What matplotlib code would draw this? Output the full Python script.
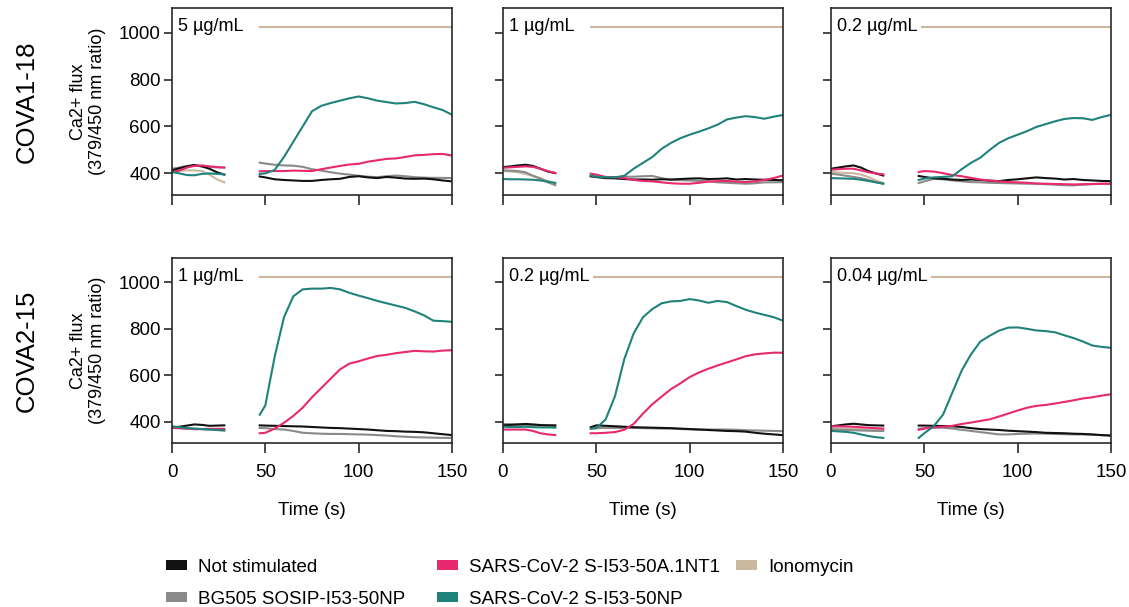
import matplotlib
matplotlib.use("Agg")
import matplotlib.pyplot as plt
from matplotlib.patches import Patch
from matplotlib.transforms import blended_transform_factory

plt.rcParams['font.family'] = ['Liberation Sans', 'DejaVu Sans']

# time points (s): before and after the stimulus was added
t_pre = [0, 4, 8, 12, 16, 20, 24, 28]
t_post = [47, 50, 55, 60, 65, 70, 75, 80, 85, 90, 95, 100, 105, 110, 115, 120, 125, 130, 135, 140, 145, 150]
iono_level = 1022  # ionomycin trace is off scale after stimulation

series_names = ["Not stimulated", "BG505 SOSIP-I53-50NP", "SARS-CoV-2 S-I53-50A.1NT1",
                "SARS-CoV-2 S-I53-50NP", "Ionomycin"]
series_keys = ["not", "bg", "a1", "np", "iono"]
series_colors = ["#111111", "#8a8a8a", "#e8286f", "#1f827b", "#c9b79e"]

row_labels = ["COVA1-18", "COVA2-15"]
conc_labels = [["5 \u00b5g/mL", "1 \u00b5g/mL", "0.2 \u00b5g/mL"],
               ["1 \u00b5g/mL", "0.2 \u00b5g/mL", "0.04 \u00b5g/mL"]]

# COVA1-18, 5 ug/mL
c118_a_pre = {"not": [413, 422, 430, 436, 430, 420, 405, 395],
              "bg": [420, 425, 432, 434, 430, 428, 426, 425],
              "a1": [405, 412, 425, 432, 434, 430, 427, 425],
              "np": [406, 400, 393, 392, 398, 400, 398, 396],
              "iono": [410, 412, 413, 413, 410, 395, 375, 362]}
c118_a_post = {"not": [387, 383, 375, 372, 370, 368, 368, 372, 375, 377, 385, 388, 383, 380, 385, 382, 378, 377, 378, 375, 370, 366],
               "bg": [446, 442, 437, 434, 433, 428, 418, 412, 405, 399, 395, 390, 386, 384, 388, 391, 388, 384, 382, 381, 381, 380],
               "a1": [409, 410, 410, 410, 412, 411, 410, 418, 425, 432, 438, 441, 450, 456, 462, 464, 470, 477, 479, 482, 483, 476],
               "np": [398, 400, 415, 470, 535, 600, 665, 688, 700, 710, 720, 728, 720, 710, 704, 698, 700, 705, 695, 682, 670, 650]}

# COVA1-18, 1 ug/mL
c118_b_pre = {"not": [427, 430, 434, 437, 432, 420, 408, 401],
              "bg": [413, 412, 410, 405, 390, 377, 362, 350],
              "a1": [424, 426, 428, 430, 428, 420, 410, 402],
              "np": [376, 375, 375, 374, 373, 370, 365, 360],
              "iono": [410, 408, 405, 398, 390, 380, 368, 355]}
c118_b_post = {"not": [389, 385, 380, 379, 376, 374, 374, 373, 375, 374, 376, 378, 379, 376, 377, 379, 374, 376, 374, 373, 372, 371],
               "bg": [386, 384, 382, 384, 386, 386, 388, 389, 380, 372, 371, 370, 368, 367, 362, 360, 358, 356, 358, 362, 362, 363],
               "a1": [399, 395, 385, 384, 380, 372, 368, 366, 362, 358, 356, 356, 360, 365, 367, 368, 365, 363, 366, 372, 380, 391],
               "np": [391, 386, 384, 383, 390, 420, 445, 470, 505, 530, 550, 565, 578, 592, 608, 630, 638, 644, 640, 633, 642, 649]}

# COVA1-18, 0.2 ug/mL
c118_c_pre = {"not": [420, 425, 430, 434, 425, 410, 400, 391],
              "bg": [399, 395, 390, 385, 380, 372, 363, 356],
              "a1": [416, 418, 420, 420, 413, 405, 400, 396],
              "np": [380, 379, 378, 377, 373, 368, 362, 356],
              "iono": [406, 404, 402, 401, 395, 385, 370, 360]}
c118_c_post = {"not": [389, 385, 379, 377, 374, 372, 374, 372, 369, 367, 372, 375, 379, 383, 380, 378, 374, 376, 372, 370, 368, 367],
               "bg": [359, 366, 377, 375, 370, 366, 363, 362, 360, 359, 358, 357, 356, 356, 354, 352, 350, 349, 352, 354, 356, 356],
               "a1": [406, 410, 408, 401, 393, 388, 381, 374, 370, 366, 363, 362, 360, 357, 356, 355, 354, 353, 354, 355, 356, 356],
               "np": [372, 378, 383, 385, 388, 418, 445, 467, 500, 530, 550, 565, 580, 598, 610, 622, 632, 636, 635, 628, 640, 650]}

# COVA2-15, 1 ug/mL
c215_a_pre = {"not": [375, 378, 383, 388, 386, 382, 383, 384],
              "bg": [373, 372, 370, 368, 368, 367, 366, 366],
              "a1": [373, 372, 370, 368, 368, 369, 369, 369],
              "np": [380, 376, 372, 370, 368, 366, 364, 362],
              "iono": [378, 375, 372, 370, 368, 366, 364, 362]}
c215_a_post = {"not": [384, 383, 382, 381, 380, 379, 377, 375, 373, 372, 370, 368, 366, 363, 360, 359, 357, 356, 354, 350, 346, 342],
               "bg": [373, 372, 368, 366, 360, 352, 350, 348, 347, 347, 346, 345, 344, 342, 340, 337, 335, 333, 332, 331, 330, 330],
               "a1": [350, 352, 370, 395, 425, 460, 505, 545, 585, 625, 650, 660, 672, 683, 688, 695, 700, 705, 703, 702, 706, 708],
               "np": [430, 470, 680, 850, 940, 970, 973, 973, 976, 970, 955, 943, 932, 920, 910, 900, 890, 875, 858, 835, 833, 830]}

# COVA2-15, 0.2 ug/mL
c215_b_pre = {"not": [384, 386, 388, 390, 388, 385, 384, 383],
              "bg": [390, 389, 388, 387, 386, 386, 385, 385],
              "a1": [366, 366, 366, 366, 360, 350, 345, 342],
              "np": [378, 377, 377, 378, 376, 375, 375, 374],
              "iono": [385, 384, 384, 383, 382, 380, 380, 378]}
c215_b_post = {"not": [376, 384, 382, 380, 378, 376, 375, 374, 373, 372, 370, 368, 366, 364, 362, 360, 359, 357, 352, 348, 345, 342],
               "bg": [370, 372, 373, 373, 373, 373, 372, 371, 370, 370, 368, 367, 366, 366, 366, 366, 365, 363, 362, 361, 360, 359],
               "a1": [350, 350, 352, 355, 365, 390, 435, 475, 508, 540, 565, 592, 612, 628, 642, 655, 668, 682, 690, 694, 697, 697],
               "np": [370, 372, 410, 510, 670, 780, 850, 885, 910, 918, 920, 928, 922, 912, 920, 915, 898, 882, 870, 860, 850, 835]}

# COVA2-15, 0.04 ug/mL
c215_c_pre = {"not": [380, 384, 388, 391, 388, 385, 384, 383],
              "bg": [366, 365, 364, 363, 362, 361, 360, 360],
              "a1": [380, 380, 379, 378, 376, 374, 372, 370],
              "np": [360, 358, 356, 352, 345, 338, 333, 330],
              "iono": [372, 371, 370, 369, 368, 367, 366, 365]}
c215_c_post = {"not": [383, 383, 382, 381, 380, 377, 372, 368, 366, 364, 361, 359, 357, 355, 352, 351, 350, 348, 347, 345, 342, 340],
               "bg": [369, 372, 374, 374, 370, 365, 360, 355, 350, 345, 345, 347, 348, 349, 348, 347, 346, 345, 345, 343, 342, 340],
               "a1": [365, 370, 375, 378, 382, 390, 396, 403, 410, 422, 435, 448, 460, 468, 472, 478, 485, 492, 500, 505, 512, 518],
               "np": [330, 350, 380, 430, 525, 620, 690, 745, 770, 792, 805, 806, 800, 793, 790, 785, 772, 760, 745, 728, 722, 718]}

panels = [[(c118_a_pre, c118_a_post), (c118_b_pre, c118_b_post), (c118_c_pre, c118_c_post)],
          [(c215_a_pre, c215_a_post), (c215_b_pre, c215_b_post), (c215_c_pre, c215_c_post)]]

W, H = 1129, 607
fig = plt.figure(figsize=(W / 100, H / 100), dpi=100)

col_left = [172, 503, 831]
col_width = 280
row_top = [8, 258]
row_height = [187, 185]
spine_color = "#2a2a2a"


def plot_panel(ax, pre, post, conc):
    # draw order: ionomycin underneath, then controls, then the nanoparticles
    for key in ["iono", "bg", "not", "a1", "np"]:
        color = series_colors[series_keys.index(key)]
        ax.plot(t_pre, pre[key], color=color, lw=1.5, solid_joinstyle="round")
        if key == "iono":
            ax.plot(t_post, [iono_level] * len(t_post), color=color, lw=1.5)
        else:
            ax.plot(t_post, post[key], color=color, lw=1.5, solid_joinstyle="round")

    trans = blended_transform_factory(ax.transAxes, ax.transData)
    ax.text(0.02, 1025, conc, transform=trans, ha="left", va="center", fontsize=13,
            bbox=dict(facecolor="white", edgecolor="none", pad=3), zorder=5)

    ax.set_xlim(0, 150)
    ax.set_ylim(308, 1105)
    ax.set_xticks([0, 50, 100, 150])
    ax.set_yticks([400, 600, 800, 1000])
    for s in ax.spines.values():
        s.set_color(spine_color)
        s.set_linewidth(1.2)
    ax.tick_params(axis="x", length=7, width=1.2, color=spine_color, labelsize=13.5, pad=8)
    ax.tick_params(axis="y", length=6, width=1.2, color=spine_color, labelsize=13.5, pad=2)


for r in range(2):
    for c in range(3):
        ax = fig.add_axes([col_left[c] / W, 1 - (row_top[r] + row_height[r]) / H,
                           col_width / W, row_height[r] / H])
        pre, post = panels[r][c]
        plot_panel(ax, pre, post, conc_labels[r][c])
        if r == 0:
            ax.set_xticklabels([])
        else:
            ax.set_xlabel("Time (s)", fontsize=13.5, labelpad=15)
        if c > 0:
            ax.set_yticklabels([])
        else:
            yc = 1 - (row_top[r] + row_height[r] / 2) / H
            fig.text(88 / W, yc, "Ca2+ flux\n(379/450 nm ratio)", rotation=90, ha="center",
                     va="center", multialignment="center", fontsize=13, linespacing=1.2)
            fig.text(27 / W, yc, row_labels[r], rotation=90, ha="center", va="center", fontsize=18.5)

# legend: three columns placed separately
handles = [Patch(facecolor=col, edgecolor="none") for col in series_colors]
groups = [[0, 1], [2, 3], [4]]
legend_x = [166, 437, 736]
for g, x in zip(groups, legend_x):
    leg = fig.legend([handles[i] for i in g], [series_names[i] for i in g],
                     loc="upper left", bbox_to_anchor=(x / W, 1 - 559 / H),
                     frameon=False, fontsize=13.5, handlelength=1.1, handleheight=0.42,
                     handletextpad=0.6, labelspacing=0.8, borderpad=0, borderaxespad=0)

fig.savefig("out.png", dpi=100)
